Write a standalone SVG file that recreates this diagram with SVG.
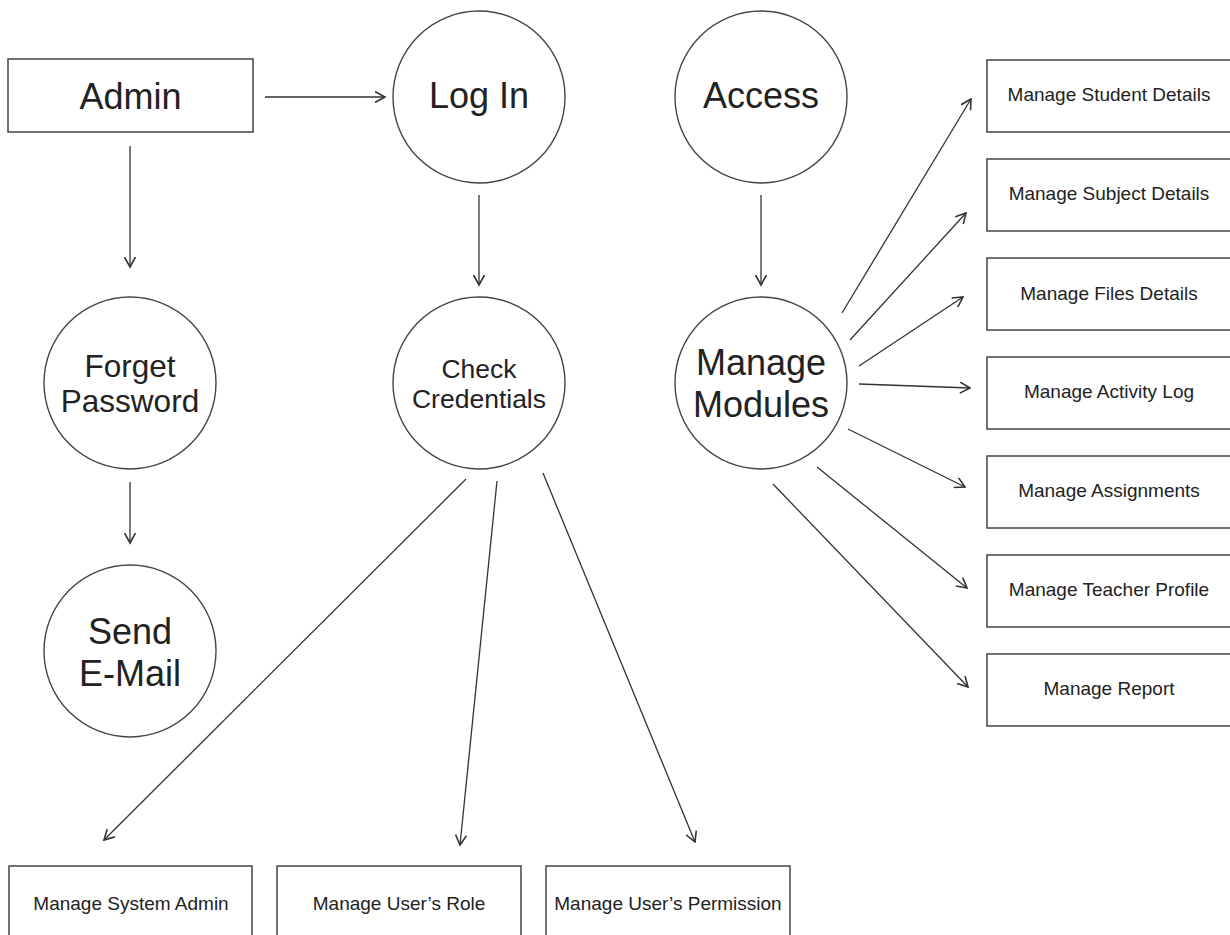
<svg xmlns="http://www.w3.org/2000/svg" width="1230" height="935" viewBox="0 0 1230 935">
<style>
  .box { fill: #ffffff; stroke: #444444; stroke-width: 1.5; }
  .circ { fill: #ffffff; stroke: #444444; stroke-width: 1.4; }
  .lbl { font-family: "Liberation Sans", Arial, sans-serif; fill: #222222; text-anchor: middle; }
  .big { font-size: 36px; }
  .sm { font-size: 19px; }
  .conn line { stroke: #333333; stroke-width: 1.3; fill: none; marker-end: url(#arr); }
</style>
<defs>
  <marker id="arr" markerUnits="userSpaceOnUse" viewBox="0 0 12 12" refX="10.5" refY="6" markerWidth="12" markerHeight="12" orient="auto">
    <path d="M0.5,0.5 L10.5,6 L0.5,11.5" fill="none" stroke="#333333" stroke-width="1.6"/>
  </marker>
</defs>
<rect width="1230" height="935" fill="#ffffff"/>

<g id="admin">
  <rect class="box" x="8" y="59" width="245" height="73"/>
  <text class="lbl big" x="130.5" y="109">Admin</text>
</g>
<g id="login">
  <circle class="circ" cx="479" cy="97" r="86"/>
  <text class="lbl big" x="479" y="108">Log In</text>
</g>
<g id="access">
  <circle class="circ" cx="761" cy="97" r="86"/>
  <text class="lbl big" x="761" y="108">Access</text>
</g>
<g id="forget-password">
  <circle class="circ" cx="130" cy="383" r="86"/>
  <text class="lbl" style="font-size:31.5px" x="130" y="377">Forget</text>
  <text class="lbl" style="font-size:31.5px" x="130" y="412">Password</text>
</g>
<g id="send-email">
  <circle class="circ" cx="130" cy="651" r="86"/>
  <text class="lbl big" x="130" y="644">Send</text>
  <text class="lbl big" x="130" y="686">E-Mail</text>
</g>
<g id="check-credentials">
  <circle class="circ" cx="479" cy="383" r="86"/>
  <text class="lbl" style="font-size:26.5px" x="479" y="378">Check</text>
  <text class="lbl" style="font-size:26.5px" x="479" y="408">Credentials</text>
</g>
<g id="manage-modules">
  <circle class="circ" cx="761" cy="383" r="86"/>
  <text class="lbl big" x="761" y="375">Manage</text>
  <text class="lbl big" x="761" y="417">Modules</text>
</g>

<g id="manage-student-details">
  <rect class="box" x="987" y="60" width="245" height="72"/>
  <text class="lbl sm" x="1109" y="101">Manage Student Details</text>
</g>
<g id="manage-subject-details">
  <rect class="box" x="987" y="159" width="245" height="72"/>
  <text class="lbl sm" x="1109" y="200">Manage Subject Details</text>
</g>
<g id="manage-files-details">
  <rect class="box" x="987" y="258" width="245" height="72"/>
  <text class="lbl sm" x="1109" y="300">Manage Files Details</text>
</g>
<g id="manage-activity-log">
  <rect class="box" x="987" y="357" width="245" height="72"/>
  <text class="lbl sm" x="1109" y="398">Manage Activity Log</text>
</g>
<g id="manage-assignments">
  <rect class="box" x="987" y="456" width="245" height="72"/>
  <text class="lbl sm" x="1109" y="497">Manage Assignments</text>
</g>
<g id="manage-teacher-profile">
  <rect class="box" x="987" y="555" width="245" height="72"/>
  <text class="lbl sm" x="1109" y="596">Manage Teacher Profile</text>
</g>
<g id="manage-report">
  <rect class="box" x="987" y="654" width="245" height="72"/>
  <text class="lbl sm" x="1109" y="695">Manage Report</text>
</g>

<g id="manage-system-admin">
  <rect class="box" x="9" y="866" width="243" height="75"/>
  <text class="lbl sm" x="131" y="910">Manage System Admin</text>
</g>
<g id="manage-users-role">
  <rect class="box" x="277" y="866" width="244" height="75"/>
  <text class="lbl sm" x="399" y="910">Manage User’s Role</text>
</g>
<g id="manage-users-permission">
  <rect class="box" x="546" y="866" width="244" height="75"/>
  <text class="lbl sm" x="668" y="910">Manage User’s Permission</text>
</g>

<g id="connectors" class="conn">
  <line x1="265" y1="97" x2="385" y2="97"/>
  <line x1="130" y1="146" x2="130" y2="267"/>
  <line x1="130" y1="482" x2="130" y2="543"/>
  <line x1="479" y1="195" x2="479" y2="285"/>
  <line x1="761" y1="195" x2="761" y2="285"/>
  <line x1="466" y1="479" x2="104" y2="840"/>
  <line x1="497" y1="481" x2="460" y2="845"/>
  <line x1="543" y1="473" x2="695" y2="842"/>
  <line x1="842" y1="313" x2="971" y2="99"/>
  <line x1="850" y1="340" x2="966" y2="213"/>
  <line x1="859" y1="366" x2="963" y2="297"/>
  <line x1="859" y1="384" x2="970" y2="388"/>
  <line x1="848" y1="429" x2="965" y2="487"/>
  <line x1="817" y1="467" x2="967" y2="588"/>
  <line x1="773" y1="484" x2="968" y2="687"/>
</g>
</svg>
